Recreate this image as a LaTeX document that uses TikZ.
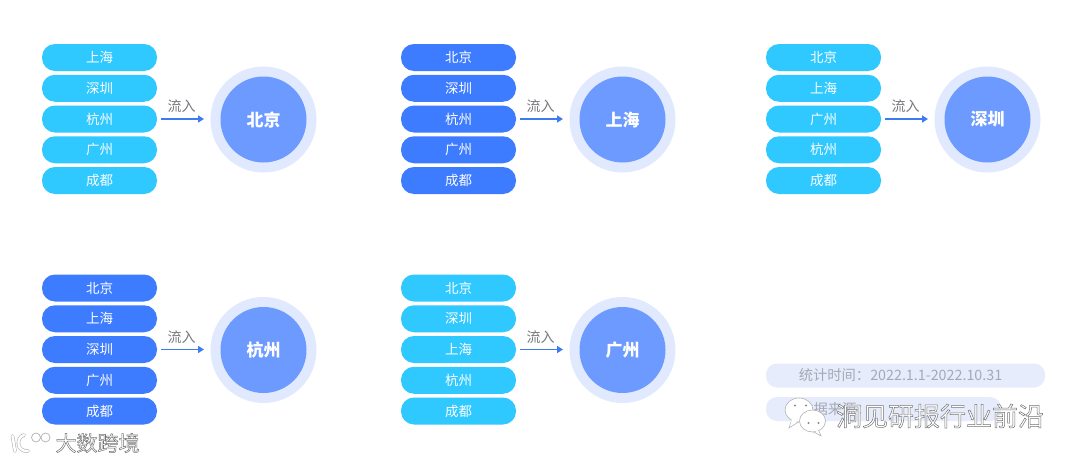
\documentclass[tikz,border=0pt]{standalone}
\usepackage{fontspec}
\setmainfont{Noto Sans CJK SC}
\definecolor{cyanpill}{HTML}{2FC8FF}
\definecolor{bluepill}{HTML}{3D7BFF}
\definecolor{ringc}{HTML}{E1E9FE}
\definecolor{discc}{HTML}{6C9AFF}
\definecolor{arrowc}{HTML}{3F7BF0}
\definecolor{labelc}{HTML}{77797E}
\definecolor{notec}{HTML}{A5A9B5}
\definecolor{notebg}{HTML}{E7ECFD}
\usetikzlibrary{arrows.meta}
\newcommand{\outlined}[2]{\special{pdf:code 2 Tr #1 w 0.45 G 1 g}#2\special{pdf:code 0 Tr}}
\tikzset{x=1pt,y=-1pt,
 pill/.style={rounded corners=13pt,minimum width=115pt,minimum height=27pt,inner sep=0pt,text=white,font=\fontsize{13.5pt}{15pt}\selectfont,anchor=center},
 ringnode/.style={circle,fill=ringc,minimum size=106pt,inner sep=0pt},
 discnode/.style={circle,fill=discc,minimum size=86pt,inner sep=0pt,text=white,font=\fontsize{17pt}{19pt}\selectfont\bfseries},
 flow/.style={arrowc,line width=1.8pt,-{Triangle[length=6pt,width=7pt]}},
 flowlabel/.style={text=labelc,inner sep=0pt,font=\fontsize{14pt}{16pt}\selectfont},
 notepill/.style={fill=notebg,rounded corners=11pt,minimum height=24pt,inner sep=0pt},
 notetext/.style={text=notec,inner sep=0pt,font=\fontsize{14.3pt}{16pt}\selectfont},
 wm/.style={text=white,inner sep=0pt,font=\fontsize{#1}{30pt}\selectfont},
 bubble/.style={fill=white,draw=black!30,line width=.6pt},
 logoedge/.style={black!30,line width=3.6pt,line cap=round},
 logofill/.style={white,line width=2.4pt,line cap=round},
}
\newcommand{\flowgroup}[6]{% id, dx, dy, pillcolor, city list, target
 \foreach \c [count=\i] in {#5}{
   \node[pill,fill=#4] (#1p\i) at (#2+99.5,#3+57.5+30.75*\i-30.75) {\c};
 }
 \node[ringnode] (#1r) at (#2+263.5,#3+119.5) {};
 \node[discnode] (#1d) at (#2+263.5,#3+119.5) {#6};
 \coordinate (#1s) at (#2+161,#3+119);
 \coordinate (#1e) at (#2+204,#3+119);
 \draw[flow] (#1s) -- (#1e);
 \node[flowlabel] (#1l) at (#2+181.5,#3+106.5) {流入};
}
\begin{document}
\begin{tikzpicture}
\useasboundingbox (0,0) rectangle (1080,463);
\fill[white] (0,0) rectangle (1080,463);
\flowgroup{a}{0}{0}{cyanpill}{上海,深圳,杭州,广州,成都}{北京}
\flowgroup{b}{359}{0}{bluepill}{北京,深圳,杭州,广州,成都}{上海}
\flowgroup{c}{724}{0}{cyanpill}{北京,上海,广州,杭州,成都}{深圳}
\flowgroup{d}{0}{230.5}{bluepill}{北京,上海,深圳,广州,成都}{杭州}
\flowgroup{e}{359}{230.5}{cyanpill}{北京,深圳,上海,杭州,成都}{广州}
% notes
\node[notepill,minimum width=279pt] (n1) at (905.5,375.5) {};
\node[notetext] (n1t) at (900.5,375.5) {统计时间：2022.1.1-2022.10.31};
\node[notepill,minimum width=235pt] (n2) at (883.5,409) {};
\node[notetext,anchor=west] (n2t) at (799,409) {数据来源：};
% watermark right: WeChat bubbles
\fill[bubble] (792,419) -- (789,428) -- (800,421) -- cycle;
\fill[bubble] (799,410) ellipse (14pt and 12pt);
\fill[white] (792,418) -- (790.5,425) -- (799,420) -- cycle;
\fill[black!45] (795,405.5) circle (1.1pt) (806,405.5) circle (1.1pt);
\fill[bubble] (818,429) -- (821,436) -- (812,431) -- cycle;
\fill[bubble] (812.5,421) ellipse (13pt and 11pt);
\fill[white] (817,429) -- (819.5,433.5) -- (813,430) -- cycle;
\fill[black!45] (808.5,423) circle (1.1pt) (818.5,423) circle (1.1pt);
\node[wm=26pt] (w1) at (940,416) {\outlined{0.5}{洞见研报行业前沿}};
% watermark left
\draw[logoedge] (12.5,436) -- (15,451);
\draw[logoedge] (24,435) .. controls (16,437) and (16,452) .. (28,451);
\draw[logofill] (12.5,436) -- (15,451);
\draw[logofill] (24,435) .. controls (16,437) and (16,452) .. (28,451);
\draw[black!30,line width=.7pt,fill=white] (36,437.5) circle (4.5pt) (45.5,437.5) circle (4.5pt);
\node[wm=21pt] (w2) at (97.5,443) {\outlined{0.5}{大数跨境}};
\end{tikzpicture}
\end{document}
